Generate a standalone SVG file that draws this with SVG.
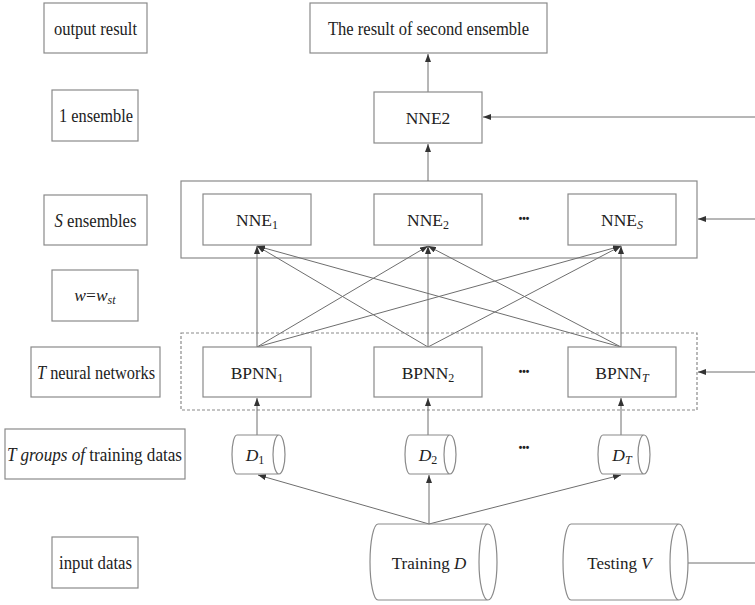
<svg xmlns="http://www.w3.org/2000/svg" width="755" height="605" viewBox="0 0 755 605">
<style>
.b{fill:#fff;stroke:#8a8a8a;stroke-width:1.2}
.d{fill:none;stroke:#8a8a8a;stroke-width:1.2;stroke-dasharray:3,2}
.c{fill:none;stroke:#6e6e6e;stroke-width:1}
.t{font-family:"Liberation Serif","Times New Roman",serif;font-size:19px;fill:#222;text-anchor:middle}
.n{font-size:17.5px}
.m{font-size:17px}
.i{font-style:italic}
.s{font-size:12px}
.dots{font-family:"Liberation Sans",Arial,sans-serif;font-size:10px;font-weight:bold;fill:#222;text-anchor:middle}
</style>
<defs>
<marker id="a" viewBox="0 0 8 6" refX="8" refY="3" markerWidth="8" markerHeight="6" markerUnits="userSpaceOnUse" orient="auto">
<path d="M0,0 L8,3 L0,6 z" fill="#333"/>
</marker>
</defs>
<rect class="b" x="181" y="181" width="516" height="77"/>
<rect class="d" x="181" y="333" width="516" height="77"/>
<g id="connectors">
<line class="c" x1="428" y1="92" x2="428" y2="54" marker-end="url(#a)"/>
<line class="c" x1="428" y1="181" x2="428" y2="144" marker-end="url(#a)"/>
<line class="c" x1="755" y1="117" x2="483" y2="117" marker-end="url(#a)"/>
<line class="c" x1="755" y1="219" x2="698" y2="219" marker-end="url(#a)"/>
<line class="c" x1="755" y1="372" x2="698" y2="372" marker-end="url(#a)"/>
<line class="c" x1="688" y1="563" x2="755" y2="563"/>
<line class="c" x1="257" y1="347" x2="257" y2="246" marker-end="url(#a)"/>
<line class="c" x1="257" y1="347" x2="428" y2="246" marker-end="url(#a)"/>
<line class="c" x1="257" y1="347" x2="621" y2="246" marker-end="url(#a)"/>
<line class="c" x1="428" y1="347" x2="257" y2="246" marker-end="url(#a)"/>
<line class="c" x1="428" y1="347" x2="428" y2="246" marker-end="url(#a)"/>
<line class="c" x1="428" y1="347" x2="621" y2="246" marker-end="url(#a)"/>
<line class="c" x1="621" y1="347" x2="257" y2="246" marker-end="url(#a)"/>
<line class="c" x1="621" y1="347" x2="428" y2="246" marker-end="url(#a)"/>
<line class="c" x1="621" y1="347" x2="621" y2="246" marker-end="url(#a)"/>
<line class="c" x1="257" y1="435" x2="257" y2="398" marker-end="url(#a)"/>
<line class="c" x1="428" y1="435" x2="428" y2="398" marker-end="url(#a)"/>
<line class="c" x1="621" y1="435" x2="621" y2="398" marker-end="url(#a)"/>
<line class="c" x1="429" y1="524" x2="258" y2="475" marker-end="url(#a)"/>
<line class="c" x1="429" y1="524" x2="429" y2="475" marker-end="url(#a)"/>
<line class="c" x1="429" y1="524" x2="621" y2="475" marker-end="url(#a)"/>
</g>
<g id="lbl-output"><rect class="b" x="44" y="3" width="103" height="50"/><text class="t" x="95.5" y="34.5" textLength="83" lengthAdjust="spacingAndGlyphs">output result</text></g>
<g id="lbl-1ens"><rect class="b" x="52" y="90" width="86" height="51"/><text class="t" x="96" y="122" textLength="74" lengthAdjust="spacingAndGlyphs">1 ensemble</text></g>
<g id="lbl-sens"><rect class="b" x="44" y="195" width="103" height="50"/><text class="t" x="95.5" y="226.5" textLength="82" lengthAdjust="spacingAndGlyphs"><tspan class="i">S</tspan> ensembles</text></g>
<g id="lbl-w"><rect class="b" x="52" y="270" width="86" height="51"/><text class="t n" x="95" y="301"><tspan class="i">w</tspan>=<tspan class="i">w</tspan><tspan class="i s" dy="3">st</tspan></text></g>
<g id="lbl-tnn"><rect class="b" x="31" y="347" width="129" height="50"/><text class="t" x="96" y="378.5" textLength="118" lengthAdjust="spacingAndGlyphs"><tspan class="i">T</tspan> neural networks</text></g>
<g id="lbl-tgroups"><rect class="b" x="5" y="429" width="180" height="50"/><text class="t" x="94.5" y="460.5" textLength="175" lengthAdjust="spacingAndGlyphs"><tspan class="i">T groups of</tspan> training datas</text></g>
<g id="lbl-input"><rect class="b" x="52" y="537" width="86" height="51"/><text class="t" x="95.5" y="569" textLength="73" lengthAdjust="spacingAndGlyphs">input datas</text></g>
<g id="result"><rect class="b" x="310" y="3" width="237" height="50"/><text class="t" x="428.5" y="34.5" textLength="201" lengthAdjust="spacingAndGlyphs">The result of second ensemble</text></g>
<g id="nne2top"><rect class="b" x="374" y="92" width="108" height="51"/><text class="t n" x="428" y="124">NNE2</text></g>
<g id="nne1"><rect class="b" x="203" y="194" width="108" height="51"/><text class="t n" x="257" y="226">NNE<tspan class="s" dy="3">1</tspan></text></g>
<g id="nne2"><rect class="b" x="374" y="194" width="108" height="51"/><text class="t n" x="428" y="226">NNE<tspan class="s" dy="3">2</tspan></text></g>
<g id="nnes"><rect class="b" x="568" y="194" width="108" height="51"/><text class="t n" x="622" y="226">NNE<tspan class="s i" dy="3">S</tspan></text></g>
<text class="dots" x="524" y="222">•••</text>
<g id="bpnn1"><rect class="b" x="203" y="347" width="108" height="50"/><text class="t n" x="257" y="378.5">BPNN<tspan class="s" dy="3">1</tspan></text></g>
<g id="bpnn2"><rect class="b" x="374" y="347" width="108" height="50"/><text class="t n" x="428" y="378.5">BPNN<tspan class="s" dy="3">2</tspan></text></g>
<g id="bpnnt"><rect class="b" x="568" y="347" width="108" height="50"/><text class="t n" x="622" y="378.5">BPNN<tspan class="s i" dy="3">T</tspan></text></g>
<text class="dots" x="524" y="375">•••</text>
<g id="d1"><path class="b" d="M237,435 L279,435 A6,19.5 0 0 1 279,474 A6,19.5 0 0 1 279,435 M279,474 L237,474 A5,19.5 0 0 1 237,435"/><text class="t n" x="255" y="461"><tspan class="i">D</tspan><tspan class="s" dy="3">1</tspan></text></g>
<g id="d2"><path class="b" d="M410,435 L450,435 A6,19.5 0 0 1 450,474 A6,19.5 0 0 1 450,435 M450,474 L410,474 A5,19.5 0 0 1 410,435"/><text class="t n" x="428" y="461"><tspan class="i">D</tspan><tspan class="s" dy="3">2</tspan></text></g>
<g id="dt"><path class="b" d="M603,435 L644,435 A6,19.5 0 0 1 644,474 A6,19.5 0 0 1 644,435 M644,474 L603,474 A5,19.5 0 0 1 603,435"/><text class="t n" x="622" y="461"><tspan class="i">D</tspan><tspan class="s i" dy="3">T</tspan></text></g>
<text class="dots" x="524" y="451">•••</text>
<g id="training"><path class="b" d="M378,524 L488,524 A9,38 0 0 1 488,600 A9,38 0 0 1 488,524 M488,600 L378,600 A8,38 0 0 1 378,524"/><text class="t m" x="429" y="569">Training <tspan class="i">D</tspan></text></g>
<g id="testing"><path class="b" d="M571,524 L679,524 A9,38 0 0 1 679,600 A9,38 0 0 1 679,524 M679,600 L571,600 A8,38 0 0 1 571,524"/><text class="t m" x="619.5" y="569">Testing <tspan class="i">V</tspan></text></g>
</svg>
